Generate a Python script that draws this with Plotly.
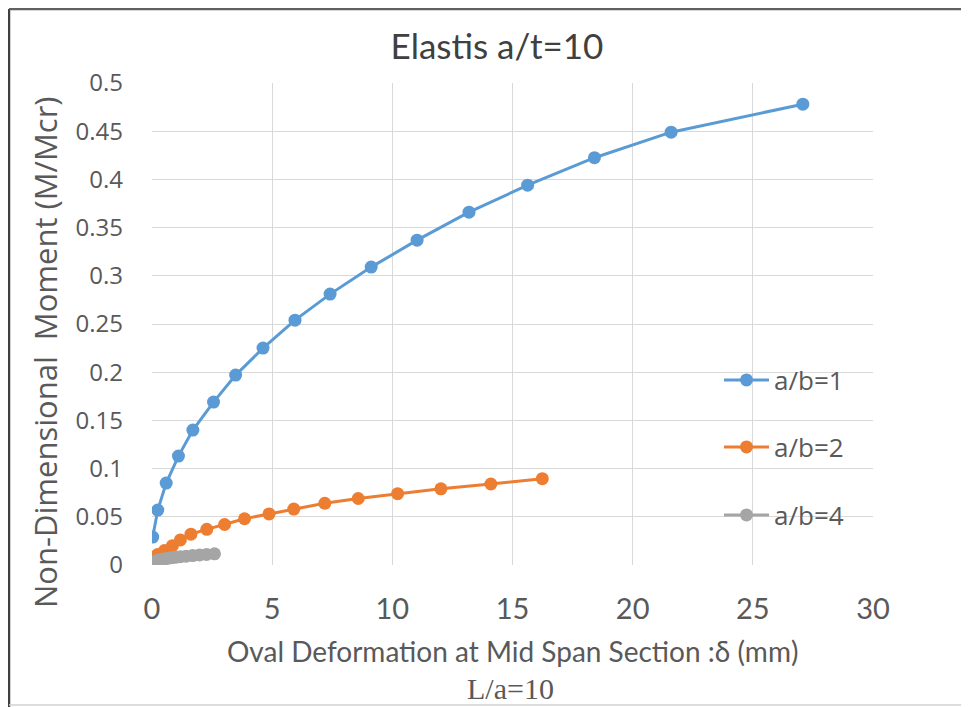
import plotly.graph_objects as go

# ---- data ----
x_ab1 = [0.03, 0.24, 0.59, 1.10, 1.70, 2.56, 3.48, 4.62, 5.95, 7.41, 9.12, 11.03, 13.19, 15.63, 18.41, 21.6, 27.08]
y_ab1 = [0.029, 0.057, 0.085, 0.113, 0.140, 0.169, 0.197, 0.225, 0.254, 0.281, 0.309, 0.337, 0.366, 0.394, 0.4225, 0.449, 0.478]

x_ab2 = [0.03, 0.24, 0.52, 0.85, 1.18, 1.62, 2.28, 3.02, 3.85, 4.87, 5.9, 7.19, 8.58, 10.22, 12.02, 14.1, 16.24]
y_ab2 = [0.007, 0.011, 0.015, 0.020, 0.026, 0.032, 0.037, 0.042, 0.048, 0.053, 0.058, 0.064, 0.069, 0.074, 0.079, 0.084, 0.0895]

x_ab4 = [0.005, 0.03, 0.07, 0.12, 0.19, 0.27, 0.37, 0.49, 0.63, 0.79, 0.97, 1.18, 1.42, 1.69, 1.98, 2.27, 2.6]
y_ab4 = [0.0015, 0.0025, 0.003, 0.0037, 0.0043, 0.005, 0.0056, 0.0062, 0.0068, 0.0074, 0.008, 0.0086, 0.0092, 0.0098, 0.0104, 0.011, 0.0116]

series_names = ["a/b=1", "a/b=2", "a/b=4"]
x_ticks = [0, 5, 10, 15, 20, 25, 30]
y_ticks = [0, 0.05, 0.1, 0.15, 0.2, 0.25, 0.3, 0.35, 0.4, 0.45, 0.5]

title_text = "Elastis a/t=10"
x_title = "Oval Deformation at Mid Span Section :δ (mm)"
x_subtitle = "L/a=10"
y_title = "Non-Dimensional&nbsp; Moment (M/Mcr)"

colors = ["#5B9BD5", "#ED7D31", "#A5A5A5"]

# page has an 8px body margin: figure is drawn 8px in from the window corner
OFF = 8
W, H = 969 - OFF, 707 - OFF
ML, MR, MT, MB = 152 - OFF, 96, 83 - OFF, 142
PW, PH = W - ML - MR, H - MT - MB


def px(xp):
    """window pixel x -> paper coordinate"""
    return (xp - OFF - ML) / PW


def py(yp):
    """window pixel y -> paper coordinate"""
    return (H - MB - (yp - OFF)) / PH


fig = go.Figure()
legends = ["legend", "legend2", "legend3"]
for xs, ys, name, col, lg in zip([x_ab1, x_ab2, x_ab4], [y_ab1, y_ab2, y_ab4], series_names, colors, legends):
    fig.add_trace(go.Scatter(
        x=xs, y=ys, name=name, mode="lines+markers",
        line=dict(color=col, width=3),
        marker=dict(color=col, size=13),
        legend=lg,
    ))

grey_txt = "#595959"
leg_common = dict(font=dict(family="Open Sans", size=26, color=grey_txt),
                  bgcolor="rgba(0,0,0,0)", borderwidth=0, itemwidth=45,
                  xanchor="left", yanchor="middle", x=px(719))

fig.update_layout(
    width=W, height=H,
    margin=dict(l=ML, r=MR, t=MT, b=MB),
    paper_bgcolor="white", plot_bgcolor="white",
    title=dict(text=title_text, x=px(497), xanchor="center", xref="paper",
               y=1 - (47 - OFF) / H, yanchor="middle",
               font=dict(family="Lato", size=35, color="#404040")),
    xaxis=dict(range=[0, 30], tickvals=x_ticks, showgrid=True, gridcolor="#d9d9d9",
               gridwidth=1.3, zeroline=False, showline=False,
               tickfont=dict(family="Lato", size=29, color=grey_txt),
               ticklabelstandoff=24),
    yaxis=dict(range=[0, 0.5], tickvals=y_ticks, showgrid=True, gridcolor="#d9d9d9",
               gridwidth=1.3, zeroline=False, showline=False,
               tickfont=dict(family="Open Sans", size=24, color=grey_txt),
               ticklabelstandoff=28),
    legend=dict(**leg_common, y=py(380)),
    legend2=dict(**leg_common, y=py(447)),
    legend3=dict(**leg_common, y=py(515)),
    showlegend=True,
)

fig.add_annotation(text=y_title, xref="paper", yref="paper", x=px(45), y=py(352),
                   textangle=-90, showarrow=False, xanchor="center", yanchor="middle",
                   font=dict(family="Open Sans", size=31, color=grey_txt))
fig.add_annotation(text=x_title, xref="paper", yref="paper", x=px(512), y=py(651),
                   showarrow=False, xanchor="center", yanchor="middle",
                   font=dict(family="Lato", size=28, color=grey_txt))
fig.add_annotation(text=x_subtitle, xref="paper", yref="paper", x=px(510), y=py(688),
                   showarrow=False, xanchor="center", yanchor="middle",
                   font=dict(family="Liberation Serif", size=30, color=grey_txt))

# outer chart frame
fig.add_shape(type="line", xref="paper", yref="paper", x0=px(9), x1=px(9), y0=py(9), y1=py(707),
              line=dict(color="#404040", width=2.5))
fig.add_shape(type="line", xref="paper", yref="paper", x0=px(9), x1=px(969), y0=py(9), y1=py(9),
              line=dict(color="#606060", width=2.5))
fig.add_shape(type="line", xref="paper", yref="paper", x0=px(9), x1=px(969), y0=py(705), y1=py(705),
              line=dict(color="#d0d0d0", width=1.5))

fig.write_html("out.html")
